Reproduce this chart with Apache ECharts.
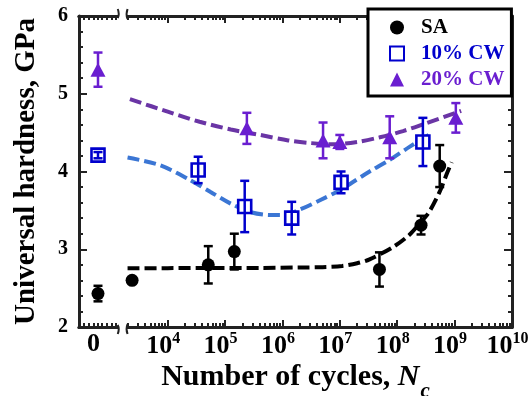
<!DOCTYPE html>
<html><head><meta charset="utf-8">
<script src="https://cdn.jsdelivr.net/npm/echarts@6/dist/echarts.min.js"></script>
<style>html,body{margin:0;padding:0;background:#fff}#c{width:529px;height:396px}</style>
</head><body><div id="c"></div>
<script>
// ---------- data ----------
const seriesNames = ['SA', '10% CW', '20% CW'];

const saCycles   = [0, 2400, 5.1e4, 1.45e5, 4.9e7, 2.6e8, 5.5e8];
const saHardness = [2.43, 2.60, 2.80, 2.97, 2.74, 3.31, 4.07];
const saError    = [0.10, 0.02, 0.24, 0.23, 0.22, 0.12, 0.27];

const cw10Cycles   = [0, 3.4e4, 2.2e5, 1.45e6, 1.05e7, 2.8e8];
const cw10Hardness = [4.21, 4.02, 3.55, 3.40, 3.86, 4.38];
const cw10Error    = [0.04, 0.17, 0.33, 0.21, 0.14, 0.31];

const cw20Cycles   = [0, 2.4e5, 5.1e6, 1.0e7, 7.4e7, 1.05e9];
const cw20Hardness = [5.31, 4.555, 4.40, 4.38, 4.44, 4.69];
const cw20Error    = [0.22, 0.20, 0.23, 0.09, 0.27, 0.19];

// dashed trend curves
const saFitCycles   = [2.0e3, 1.0e4, 3.6e4, 4.1e5, 2.0e6, 5.0e6, 1.1e7, 2.0e7, 3.3e7, 8.5e7, 1.6e8, 2.45e8, 3.6e8, 5.5e8, 7.4e8, 8.9e8];
const saFitHardness = [2.755, 2.757, 2.76, 2.76, 2.765, 2.77, 2.785, 2.82, 2.87, 3.03, 3.18, 3.33, 3.48, 3.74, 3.98, 4.12];

const cw10FitCycles   = [2.0e3, 7.4e3, 2.45e4, 5.5e4, 1.23e5, 2.7e5, 6.0e5, 1.0e6, 2.0e6, 4.5e6, 1.0e7, 3.3e7, 7.4e7, 1.66e8, 3.55e8];
const cw10FitHardness = [4.18, 4.08, 3.89, 3.74, 3.59, 3.48, 3.44, 3.44, 3.51, 3.63, 3.76, 4.00, 4.15, 4.32, 4.47];

const cw20FitCycles   = [2.2e3, 1.0e4, 3.6e4, 1.26e5, 4.1e5, 1.26e6, 3.2e6, 7.9e6, 2.0e7, 5.0e7, 1.26e8, 3.2e8, 1.3e9];
const cw20FitHardness = [4.93, 4.77, 4.64, 4.54, 4.47, 4.40, 4.365, 4.35, 4.38, 4.44, 4.52, 4.62, 4.78];

const xTickExponents = [4, 5, 6, 7, 8, 9, 10];
const xZeroLabel = '0';
const yTickValues = [2, 3, 4, 5, 6];

// ---------- layout constants ----------
const X_MIN = 2.455, X_MAX = 10;
const ZERO_POS = 2.786;             // where "0 cycles" sits on the broken axis
const BREAK_L = 3.13, BREAK_R = Math.log10(2000);
const FONT = "'Liberation Serif', 'Times New Roman', serif";
const AXIS_COLOR = '#222';
const colors = { sa: '#000000', cw10: '#0000cd', cw20: '#6a1ed0',
                 saFit: '#000000', cw10Fit: '#3b76d4', cw20Fit: '#6a35a5' };

const toX = n => n === 0 ? ZERO_POS : Math.log10(n);
const pts = (xs, ys) => xs.map((x, i) => [toX(x), ys[i]]);
const errPts = (xs, ys, es) => xs.map((x, i) => [toX(x), ys[i] - es[i], ys[i] + es[i]]);

const minorX = [];
for (let e = 3; e < 10; e++) for (let k = 2; k <= 9; k++) {
  const v = e + Math.log10(k);
  if (v >= BREAK_R - 1e-9) minorX.push(v);
}
const leftSegTicks = [2.53, 2.62, 2.71, ZERO_POS, 2.85, 2.94, 3.03, 3.10];

function errRender(color) {
  return function (params, api) {
    const x = api.value(0), lo = api.value(1), hi = api.value(2);
    const p1 = api.coord([x, hi]), p2 = api.coord([x, lo]);
    const w = 4.5;
    const style = { stroke: color, lineWidth: 2.5, fill: null };
    return { type: 'group', children: [
      { type: 'line', shape: { x1: p1[0], y1: p1[1], x2: p2[0], y2: p2[1] }, style },
      { type: 'line', shape: { x1: p1[0] - w, y1: p1[1], x2: p1[0] + w, y2: p1[1] }, style },
      { type: 'line', shape: { x1: p2[0] - w, y1: p2[1], x2: p2[0] + w, y2: p2[1] }, style }
    ]};
  };
}

const axisLineStyle = { show: true, lineStyle: { color: AXIS_COLOR, width: 3 } };
function xAxisBase(extra) {
  return Object.assign({
    type: 'value', min: X_MIN, max: X_MAX, gridIndex: 0,
    splitLine: { show: false }, axisLine: axisLineStyle
  }, extra);
}
const tickStyle = { color: AXIS_COLOR, width: 2 };

const chart = echarts.init(document.getElementById('c'), null, { renderer: 'canvas' });
const option = {
  backgroundColor: '#fff',
  animation: false,
  grid: { left: 79, right: 17, top: 16, bottom: 69, containLabel: false, outerBoundsMode: 'none' },
  xAxis: [
    xAxisBase({
      position: 'bottom',
      axisTick: { show: true, inside: true, length: 7, customValues: xTickExponents, lineStyle: tickStyle },
      axisLabel: {
        show: true, customValues: [ZERO_POS].concat(xTickExponents), margin: 4,
        padding: [0, 9, 0, 0],
        formatter: v => Math.abs(v - ZERO_POS) < 1e-6 ? '{b|' + xZeroLabel + '}' : '{b|10}{s|' + Math.round(v) + '}',
        rich: {
          b: { fontFamily: FONT, fontWeight: 'bold', fontSize: 26, color: '#000' },
          s: { fontFamily: FONT, fontWeight: 'bold', fontSize: 16, color: '#000', padding: [0, 0, 14, 0] }
        }
      },
      name: '{a|Number of cycles, }{i|N}{c|c}',
      nameLocation: 'middle', nameGap: 26, nameMoveOverlap: false,
      nameTextStyle: {
        rich: {
          a: { fontFamily: FONT, fontWeight: 'bold', fontSize: 30, color: '#000' },
          i: { fontFamily: FONT, fontWeight: 'bold', fontStyle: 'italic', fontSize: 30, color: '#000' },
          c: { fontFamily: FONT, fontWeight: 'bold', fontStyle: 'italic', fontSize: 21, color: '#000', padding: [28, 0, 0, 1] }
        }
      }
    }),
    xAxisBase({
      position: 'bottom',
      axisTick: { show: true, inside: true, length: 4, customValues: minorX.concat(leftSegTicks), lineStyle: tickStyle },
      axisLabel: { show: false }
    }),
    xAxisBase({
      position: 'top',
      axisTick: { show: true, inside: true, length: 7, customValues: xTickExponents, lineStyle: tickStyle },
      axisLabel: { show: false }
    }),
    xAxisBase({
      position: 'top',
      axisTick: { show: true, inside: true, length: 4, customValues: minorX.concat(leftSegTicks), lineStyle: tickStyle },
      axisLabel: { show: false }
    })
  ],
  yAxis: [
    {
      type: 'value', position: 'left', min: yTickValues[0], max: yTickValues[yTickValues.length - 1], interval: 1,
      splitLine: { show: false }, axisLine: axisLineStyle,
      axisTick: { show: true, inside: true, length: 8, lineStyle: tickStyle },
      minorTick: { show: true, splitNumber: 5, length: 4, lineStyle: tickStyle },
      axisLabel: { margin: 11, padding: [4, 0, 0, 0], fontFamily: FONT, fontWeight: 'bold', fontSize: 20, color: '#000' },
      name: 'Universal hardness, GPa', nameLocation: 'middle', nameRotate: 90, nameGap: 38, nameMoveOverlap: false,
      nameTextStyle: { fontFamily: FONT, fontWeight: 'bold', fontSize: 29, color: '#000' }
    },
    {
      type: 'value', position: 'right', min: yTickValues[0], max: yTickValues[yTickValues.length - 1], interval: 1,
      splitLine: { show: false }, axisLine: axisLineStyle,
      axisTick: { show: true, inside: true, length: 8, lineStyle: tickStyle },
      minorTick: { show: true, splitNumber: 5, length: 4, lineStyle: tickStyle },
      axisLabel: { show: false }
    }
  ],
  legend: {
    data: [
      { name: seriesNames[0], textStyle: { color: colors.sa } },
      { name: seriesNames[1], textStyle: { color: colors.cw10 } },
      { name: seriesNames[2], textStyle: { color: colors.cw20 } }
    ],
    orient: 'vertical', left: 368, top: 9,
    padding: [8, 7, 6, 21], itemWidth: 14, itemHeight: 14, itemGap: 5,
    borderColor: '#000', borderWidth: 3, backgroundColor: '#fff', borderRadius: 0,
    textStyle: { fontFamily: FONT, fontWeight: 'bold', fontSize: 21, padding: [0, 0, 0, 12] },
    z: 20
  },
  series: [
    { name: 'SA fit', type: 'line', data: pts(saFitCycles, saFitHardness), smooth: 0.3, showSymbol: false, silent: true,
      lineStyle: { color: colors.saFit, width: 4, type: [12, 5] }, z: 2 },
    { name: '10% CW fit', type: 'line', data: pts(cw10FitCycles, cw10FitHardness), smooth: 0.3, showSymbol: false, silent: true,
      lineStyle: { color: colors.cw10Fit, width: 4, type: [12, 5] }, z: 2 },
    { name: '20% CW fit', type: 'line', data: pts(cw20FitCycles, cw20FitHardness), smooth: 0.3, showSymbol: false, silent: true,
      lineStyle: { color: colors.cw20Fit, width: 4, type: [12, 5] }, z: 2 },

    { name: seriesNames[0], type: 'scatter', data: pts(saCycles, saHardness), symbol: 'circle', symbolSize: 13,
      itemStyle: { color: colors.sa, opacity: 1 }, z: 3 },
    { name: seriesNames[1], type: 'scatter', data: pts(cw10Cycles, cw10Hardness), symbol: 'rect', symbolSize: 13,
      itemStyle: { color: '#fff', borderColor: colors.cw10, borderWidth: 2.6, opacity: 1 }, z: 3 },
    { name: seriesNames[2], type: 'scatter', data: pts(cw20Cycles, cw20Hardness), symbol: 'triangle', symbolSize: [15, 14],
      itemStyle: { color: colors.cw20, opacity: 1 }, z: 3 },

    { name: 'SA err', type: 'custom', data: errPts(saCycles, saHardness, saError), renderItem: errRender(colors.sa),
      encode: { x: 0, y: [1, 2] }, z: 4, silent: true },
    { name: '10% CW err', type: 'custom', data: errPts(cw10Cycles, cw10Hardness, cw10Error), renderItem: errRender(colors.cw10),
      encode: { x: 0, y: [1, 2] }, z: 4, silent: true },
    { name: '20% CW err', type: 'custom', data: errPts(cw20Cycles, cw20Hardness, cw20Error), renderItem: errRender(colors.cw20),
      encode: { x: 0, y: [1, 2] }, z: 4, silent: true }
  ]
};
chart.setOption(option);

// axis break marks on top and bottom axis lines
const yBot = chart.convertToPixel({ yAxisIndex: 0 }, yTickValues[0]);
const yTop = chart.convertToPixel({ yAxisIndex: 0 }, yTickValues[yTickValues.length - 1]);
const xL = chart.convertToPixel({ xAxisIndex: 0 }, BREAK_L);
const xR = chart.convertToPixel({ xAxisIndex: 0 }, BREAK_R);
const brk = [];
[[yBot, 1], [yTop, -1]].forEach(([y, d]) => {
  brk.push({ type: 'rect', shape: { x: xL + 1, y: y - 3, width: xR - xL - 2, height: 6 }, style: { fill: '#fff' }, z: 100 });
  brk.push({ type: 'bezierCurve', shape: { x1: xL, y1: y - 2 * d, x2: xL, y2: y + 7 * d, cpx1: xL + 2, cpy1: y + 2 * d },
             style: { stroke: AXIS_COLOR, lineWidth: 2, fill: null }, z: 101 });
  brk.push({ type: 'bezierCurve', shape: { x1: xR, y1: y - 3 * d, x2: xR, y2: y + 7 * d, cpx1: xR - 2, cpy1: y + 2 * d },
             style: { stroke: AXIS_COLOR, lineWidth: 2, fill: null }, z: 101 });
});
chart.setOption({ graphic: brk });
</script>
</body></html>
